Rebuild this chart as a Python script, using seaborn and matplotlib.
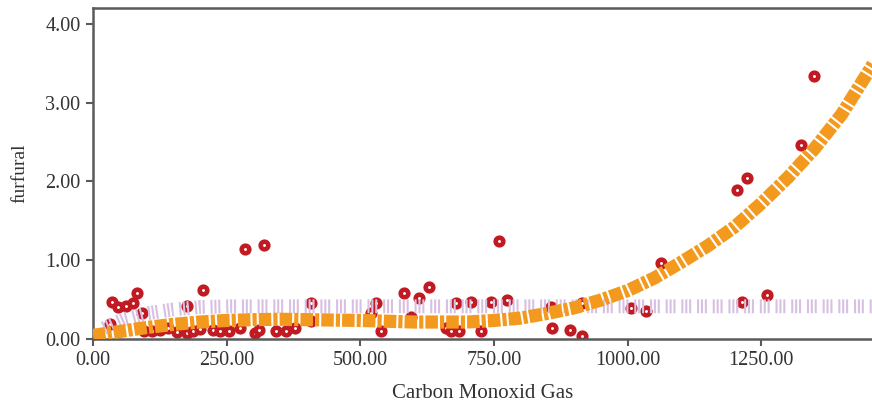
import matplotlib
matplotlib.use("Agg")
import matplotlib.pyplot as plt
import seaborn as sns
import pandas as pd

# observed points
co_gas = [32, 35, 47, 62, 75, 82, 91, 95, 110, 125, 140, 157, 175, 175, 187, 200, 205,
          224, 237, 255, 274, 285, 302, 311, 319, 343, 361, 377, 408, 408, 519, 530,
          539, 582, 595, 610, 629, 660, 670, 679, 685, 707, 726, 744, 759, 775, 857,
          858, 893, 914, 914, 1006, 1034, 1063, 1205, 1213, 1224, 1260, 1325, 1349]
furfural = [0.18, 0.46, 0.40, 0.42, 0.45, 0.58, 0.32, 0.10, 0.09, 0.11, 0.13, 0.08, 0.42,
            0.07, 0.09, 0.12, 0.62, 0.11, 0.09, 0.09, 0.14, 1.14, 0.07, 0.11, 1.19, 0.09,
            0.09, 0.14, 0.45, 0.22, 0.33, 0.45, 0.09, 0.58, 0.27, 0.52, 0.65, 0.14, 0.09,
            0.45, 0.10, 0.46, 0.09, 0.46, 1.24, 0.49, 0.40, 0.14, 0.11, 0.03, 0.45, 0.39,
            0.35, 0.96, 1.89, 0.47, 2.04, 0.56, 2.46, 3.34]

# fitted curve (orange)
fit_x = [0, 50, 100, 150, 200, 250, 300, 350, 400, 450, 500, 550, 600, 650, 700, 750,
         800, 850, 900, 950, 1000, 1050, 1100, 1150, 1200, 1250, 1300, 1350, 1400, 1460]
fit_y = [0.04, 0.09, 0.14, 0.18, 0.21, 0.23, 0.24, 0.245, 0.24, 0.235, 0.23, 0.22, 0.21,
         0.21, 0.21, 0.23, 0.26, 0.32, 0.39, 0.49, 0.61, 0.77, 0.97, 1.18, 1.42, 1.72,
         2.05, 2.42, 2.85, 3.50]

# reference line (purple)
ref_x = [20, 60, 100, 150, 200, 260, 1460]
ref_y = [0.13, 0.25, 0.32, 0.37, 0.40, 0.41, 0.41]

x_ticks = [0, 250, 500, 750, 1000, 1250]
y_ticks = [0, 1, 2, 3, 4]

sns.set_style("white")
plt.rcParams['font.family'] = ['Liberation Serif', 'DejaVu Serif']
plt.rcParams['lines.scale_dashes'] = False

fig = plt.figure(figsize=(8.72, 4.09), dpi=100)
ax = fig.add_axes([0.1067, 0.1723, 0.8933, 0.8093])

pts = pd.DataFrame({"x": co_gas, "y": furfural})
fit = pd.DataFrame({"x": fit_x, "y": fit_y})
ref = pd.DataFrame({"x": ref_x, "y": ref_y})

sns.scatterplot(data=pts, x="x", y="y", ax=ax, s=30, color="white",
                edgecolor="#C21A22", linewidth=3.3, zorder=2)
sns.lineplot(data=ref, x="x", y="y", ax=ax, color="#D8C0E2", linewidth=10,
             zorder=3)
ax.lines[-1].set_dashes([1.5, 1.3, 1.5, 1.3, 1.5, 4.2])
ax.lines[-1].set_dash_capstyle("butt")
sns.lineplot(data=fit, x="x", y="y", ax=ax, color="#F39A1E", linewidth=9.5,
             zorder=4)
ax.lines[-1].set_dashes([9.0, 1.5, 3.0, 1.5])
ax.lines[-1].set_dash_capstyle("butt")

ax.set_xlim(0, 1457)
ax.set_ylim(0, 4.21)
ax.set_xticks(x_ticks)
ax.set_xticklabels([f"{v:.2f}" for v in x_ticks])
ax.set_yticks(y_ticks)
ax.set_yticklabels([f"{v:.2f}" for v in y_ticks])

for s in ["left", "bottom", "top"]:
    ax.spines[s].set_color("#5a5a5a")
    ax.spines[s].set_linewidth(1.8)
ax.spines["right"].set_visible(False)

ax.tick_params(axis="both", direction="out", length=5, width=1.5, color="#5a5a5a",
               labelsize=14.5, labelcolor="#333333", bottom=True, left=True, pad=4)
ax.set_xlabel("Carbon Monoxid Gas", fontsize=15, color="#333333", labelpad=10)
ax.set_ylabel("furfural", fontsize=14, color="#333333", labelpad=12)

fig.savefig("out.png", dpi=100)
